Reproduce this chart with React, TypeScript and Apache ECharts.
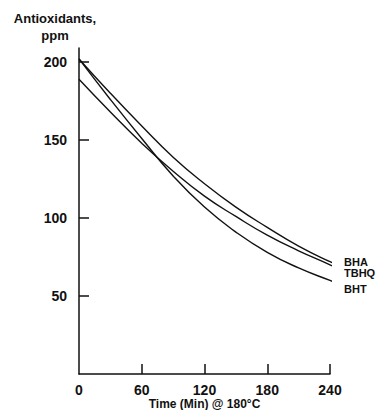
import React, { useEffect, useRef } from "react";
import * as echarts from "echarts";

const times = [0, 30, 60, 90, 120, 150, 180, 210, 240, 248];
const bha = [202, 180, 159, 139, 122, 107, 94, 82, 72, 70];
const tbhq = [189, 168, 148, 130, 114, 101, 89, 79, 70, 67];
const bht = [202, 176, 151, 127, 107, 91, 78, 68, 60, 58];
const seriesNames = ["BHA", "TBHQ", "BHT"];
const xTicks = [0, 60, 120, 180, 240];
const yTicks = [50, 100, 150, 200];

const FONT = "'Liberation Sans', Arial, sans-serif";

export default function App() {
  const ref = useRef<HTMLDivElement>(null);
  useEffect(() => {
    if (!ref.current) return;
    const chart = echarts.init(ref.current, null, { renderer: "svg" });
    const values = [bha, tbhq, bht];
    const offsets = [
      [4, 0],
      [4, 7],
      [4, 8],
    ];
    chart.setOption({
      animation: false,
      backgroundColor: "#ffffff",
      title: {
        text: "Antioxidants,\nppm",
        left: 55,
        top: 10,
        padding: 0,
        textAlign: "center",
        textStyle: {
          fontFamily: FONT,
          fontWeight: "bold",
          fontSize: 13,
          lineHeight: 17,
          color: "#111",
        },
      },
      grid: {
        left: 79,
        right: 52,
        top: 48,
        bottom: 36,
        containLabel: false,
        outerBoundsMode: "none",
      },
      xAxis: {
        type: "value",
        min: 0,
        max: 240,
        interval: 60,
        name: "Time (Min) @ 180°C",
        nameLocation: "middle",
        nameGap: 24,
        nameMoveOverlap: false,
        nameTextStyle: {
          fontFamily: FONT,
          fontWeight: "bold",
          fontSize: 12,
          color: "#111",
        },
        splitLine: { show: false },
        axisLine: { show: true, onZero: false, lineStyle: { color: "#111", width: 1.5 } },
        axisTick: {
          show: true,
          inside: true,
          length: 10,
          customValues: [60, 120, 180, 240],
          lineStyle: { color: "#111", width: 1.5 },
        },
        axisLabel: {
          customValues: xTicks,
          margin: 9,
          fontFamily: FONT,
          fontWeight: "bold",
          fontSize: 14,
          color: "#111",
        },
      },
      yAxis: {
        type: "value",
        min: 0,
        max: 209,
        interval: 50,
        splitLine: { show: false },
        axisLine: { show: true, onZero: false, lineStyle: { color: "#111", width: 1.5 } },
        axisTick: {
          show: true,
          inside: true,
          length: 10,
          customValues: yTicks,
          lineStyle: { color: "#111", width: 1.5 },
        },
        axisLabel: {
          customValues: yTicks,
          margin: 12,
          fontFamily: FONT,
          fontWeight: "bold",
          fontSize: 14,
          color: "#111",
        },
      },
      series: seriesNames.map((name, i) => ({
        name,
        type: "line",
        data: times.map((t, j) => [t, values[i][j]]),
        smooth: true,
        showSymbol: false,
        symbol: "none",
        clip: false,
        lineStyle: { color: "#111", width: 1.4 },
        endLabel: {
          show: true,
          formatter: name,
          offset: offsets[i],
          fontFamily: FONT,
          fontWeight: "bold",
          fontSize: 11,
          lineHeight: 11,
          color: "#111",
        },
        emphasis: { disabled: true },
      })),
    });
    return () => chart.dispose();
  }, []);
  return (
    <div
      ref={ref}
      style={{ position: "fixed", left: 0, top: 0, width: 382, height: 410 }}
    />
  );
}
